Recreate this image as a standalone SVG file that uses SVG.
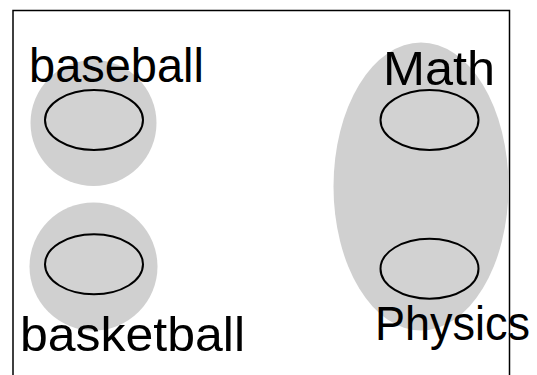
<svg xmlns="http://www.w3.org/2000/svg" width="537" height="375" viewBox="0 0 537 375">
<style>
.blob{fill:#d0d0d0;stroke:none}
.inner{fill:#d2d2d2;stroke:#000;stroke-width:2}
.lbl{font-family:"Liberation Sans","DejaVu Sans",sans-serif;font-size:48px;fill:#000}
</style>
<rect x="0" y="0" width="537" height="375" fill="#fff"/>
<path d="M13,380 V10.5 H509.5 V380" fill="none" stroke="#000" stroke-width="1.5"/>
<g id="baseball">
<circle class="blob" cx="93.5" cy="123" r="63"/>
<ellipse class="inner" cx="94" cy="120" rx="49" ry="30"/>
<text class="lbl" x="29" y="82" textLength="175" lengthAdjust="spacingAndGlyphs">baseball</text>
</g>
<g id="basketball">
<circle class="blob" cx="93.5" cy="266.5" r="64"/>
<ellipse class="inner" cx="94" cy="264.3" rx="49" ry="30"/>
<text class="lbl" x="20" y="351" textLength="225" lengthAdjust="spacingAndGlyphs">basketball</text>
</g>
<g id="subjects">
<ellipse class="blob" cx="421" cy="186.5" rx="87.5" ry="144"/>
<g id="math">
<ellipse class="inner" cx="429.5" cy="120" rx="49" ry="30"/>
<text class="lbl" x="383" y="85" textLength="112" lengthAdjust="spacingAndGlyphs">Math</text>
</g>
<g id="physics">
<ellipse class="inner" cx="429.5" cy="268.7" rx="49" ry="30"/>
<text class="lbl" x="375" y="340" textLength="155" lengthAdjust="spacingAndGlyphs">Physics</text>
</g>
</g>
<g id="connectors"></g>
</svg>
